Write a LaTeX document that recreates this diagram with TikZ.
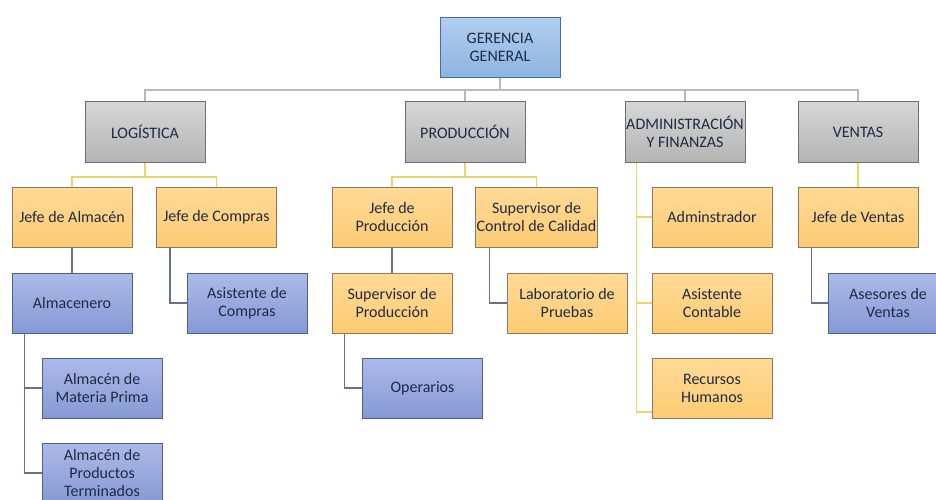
\documentclass[tikz,border=0pt]{standalone}
\usepackage{fontspec}
\setmainfont{Carlito}
\definecolor{texto}{HTML}{1F2A44}
\definecolor{bordeazul}{HTML}{41719C}
\definecolor{bordegris}{HTML}{6F6F6F}
\definecolor{bordeamar}{HTML}{8C7A5A}
\definecolor{bordelila}{HTML}{4F5F8C}
\definecolor{lineaamar}{HTML}{EAD56A}
\definecolor{lineaazul}{HTML}{66728C}
\tikzset{
  caja/.style={minimum width=120pt,minimum height=60pt,inner sep=1pt,align=center,
    text=texto,font=\fontsize{16}{18}\selectfont,line width=1pt},
  gerencia/.style={caja,draw=bordeazul,top color={rgb,255:red,178;green,205;blue,238},bottom color={rgb,255:red,141;green,180;blue,226}},
  area/.style={caja,draw=bordegris,top color={rgb,255:red,214;green,214;blue,214},bottom color={rgb,255:red,180;green,180;blue,180}},
  jefe/.style={caja,draw=bordeamar,top color={rgb,255:red,255;green,218;blue,150},bottom color={rgb,255:red,253;green,203;blue,115}},
  apoyo/.style={caja,draw=bordelila,top color={rgb,255:red,172;green,186;blue,232},bottom color={rgb,255:red,133;green,153;blue,212}},
  lgris/.style={draw=gray!55,line width=1.5pt},
  lamar/.style={draw=lineaamar,line width=1.2pt},
  lazul/.style={draw=lineaazul,line width=1.2pt}
}
\begin{document}
\begin{tikzpicture}[x=1pt,y=-1pt]
\useasboundingbox (0,0) rectangle (936,500);
\clip (0,0) rectangle (936,500);
% nivel 1 y 2
\node[gerencia] (ger) at (500,47.5) {GERENCIA\\GENERAL};
\node[area] (log) at (145,132) {LOGÍSTICA};
\node[area] (pro) at (465,132) {PRODUCCIÓN};
\node[area] (adm) at (685,132) {ADMINISTRACIÓN\\Y FINANZAS};
\node[area] (ven) at (858,132) {VENTAS};
% jefaturas
\node[jefe] (jalm) at (72,217) {Jefe de Almacén};
\node[jefe] (jcom) at (216.5,217) {Jefe de Compras};
\node[jefe] (jpro) at (392,217) {Jefe de\\Producción};
\node[jefe] (scc) at (536.5,217) {Supervisor de\\Control de Calidad};
\node[jefe] (jven) at (858,217) {Jefe de Ventas};
\foreach \n/\y/\t in {adm1/217/Adminstrador,adm2/303/Asistente\\Contable,adm3/388/Recursos\\Humanos}
{
    \node[jefe] (\n) at (712,\y) {\t};
}
\node[jefe] (spro) at (392,303) {Supervisor de\\Producción};
\node[jefe] (lab) at (567,303) {Laboratorio de\\Pruebas};
% apoyo
\node[apoyo] (alm) at (72,303) {Almacenero};
\node[apoyo] (asic) at (247,303) {Asistente de\\Compras};
\node[apoyo] (amp) at (102,388) {Almacén de\\Materia Prima};
\node[apoyo] (apt) at (102,473) {Almacén de\\Productos\\Terminados};
\node[apoyo] (ope) at (422.5,388) {Operarios};
\node[apoyo] (ase) at (888,303) {Asesores de\\Ventas};
% conectores
\coordinate (bus) at (500,90);
\draw[lgris] (ger.south) -- (bus);
\foreach \n in {log,pro,adm,ven}
{
    \draw[lgris] (bus) -| (\n.north);
}
\coordinate (blog) at (145,177);
\coordinate (bpro) at (465,177);
\draw[lamar] (log.south) -- (blog) -| (jalm.north);
\draw[lamar] (blog) -| (jcom.north);
\draw[lamar] (pro.south) -- (bpro) -| (jpro.north);
\draw[lamar] (bpro) -| (scc.north);
\draw[lamar] (ven.south) -- (jven.north);
\coordinate (badm) at ([xshift=12pt]adm.south west);
\draw[lamar] (badm) |- ([yshift=-24pt]adm3.west);
\foreach \n in {adm1,adm2}
{
    \draw[lamar] (badm) |- (\n.west);
}
\draw[lazul] (jalm.south) -- (alm.north);
\draw[lazul] ([xshift=14pt]jcom.south west) |- (asic.west);
\draw[lazul] ([xshift=13pt]alm.south west) |- (amp.west);
\draw[lazul] ([xshift=13pt]alm.south west) |- (apt.west);
\draw[lazul] (jpro.south) -- (spro.north);
\draw[lazul] ([xshift=14pt]scc.south west) |- (lab.west);
\draw[lazul] ([xshift=13pt]spro.south west) |- (ope.west);
\draw[lazul] ([xshift=14pt]jven.south west) |- (ase.west);
\end{tikzpicture}
\end{document}
